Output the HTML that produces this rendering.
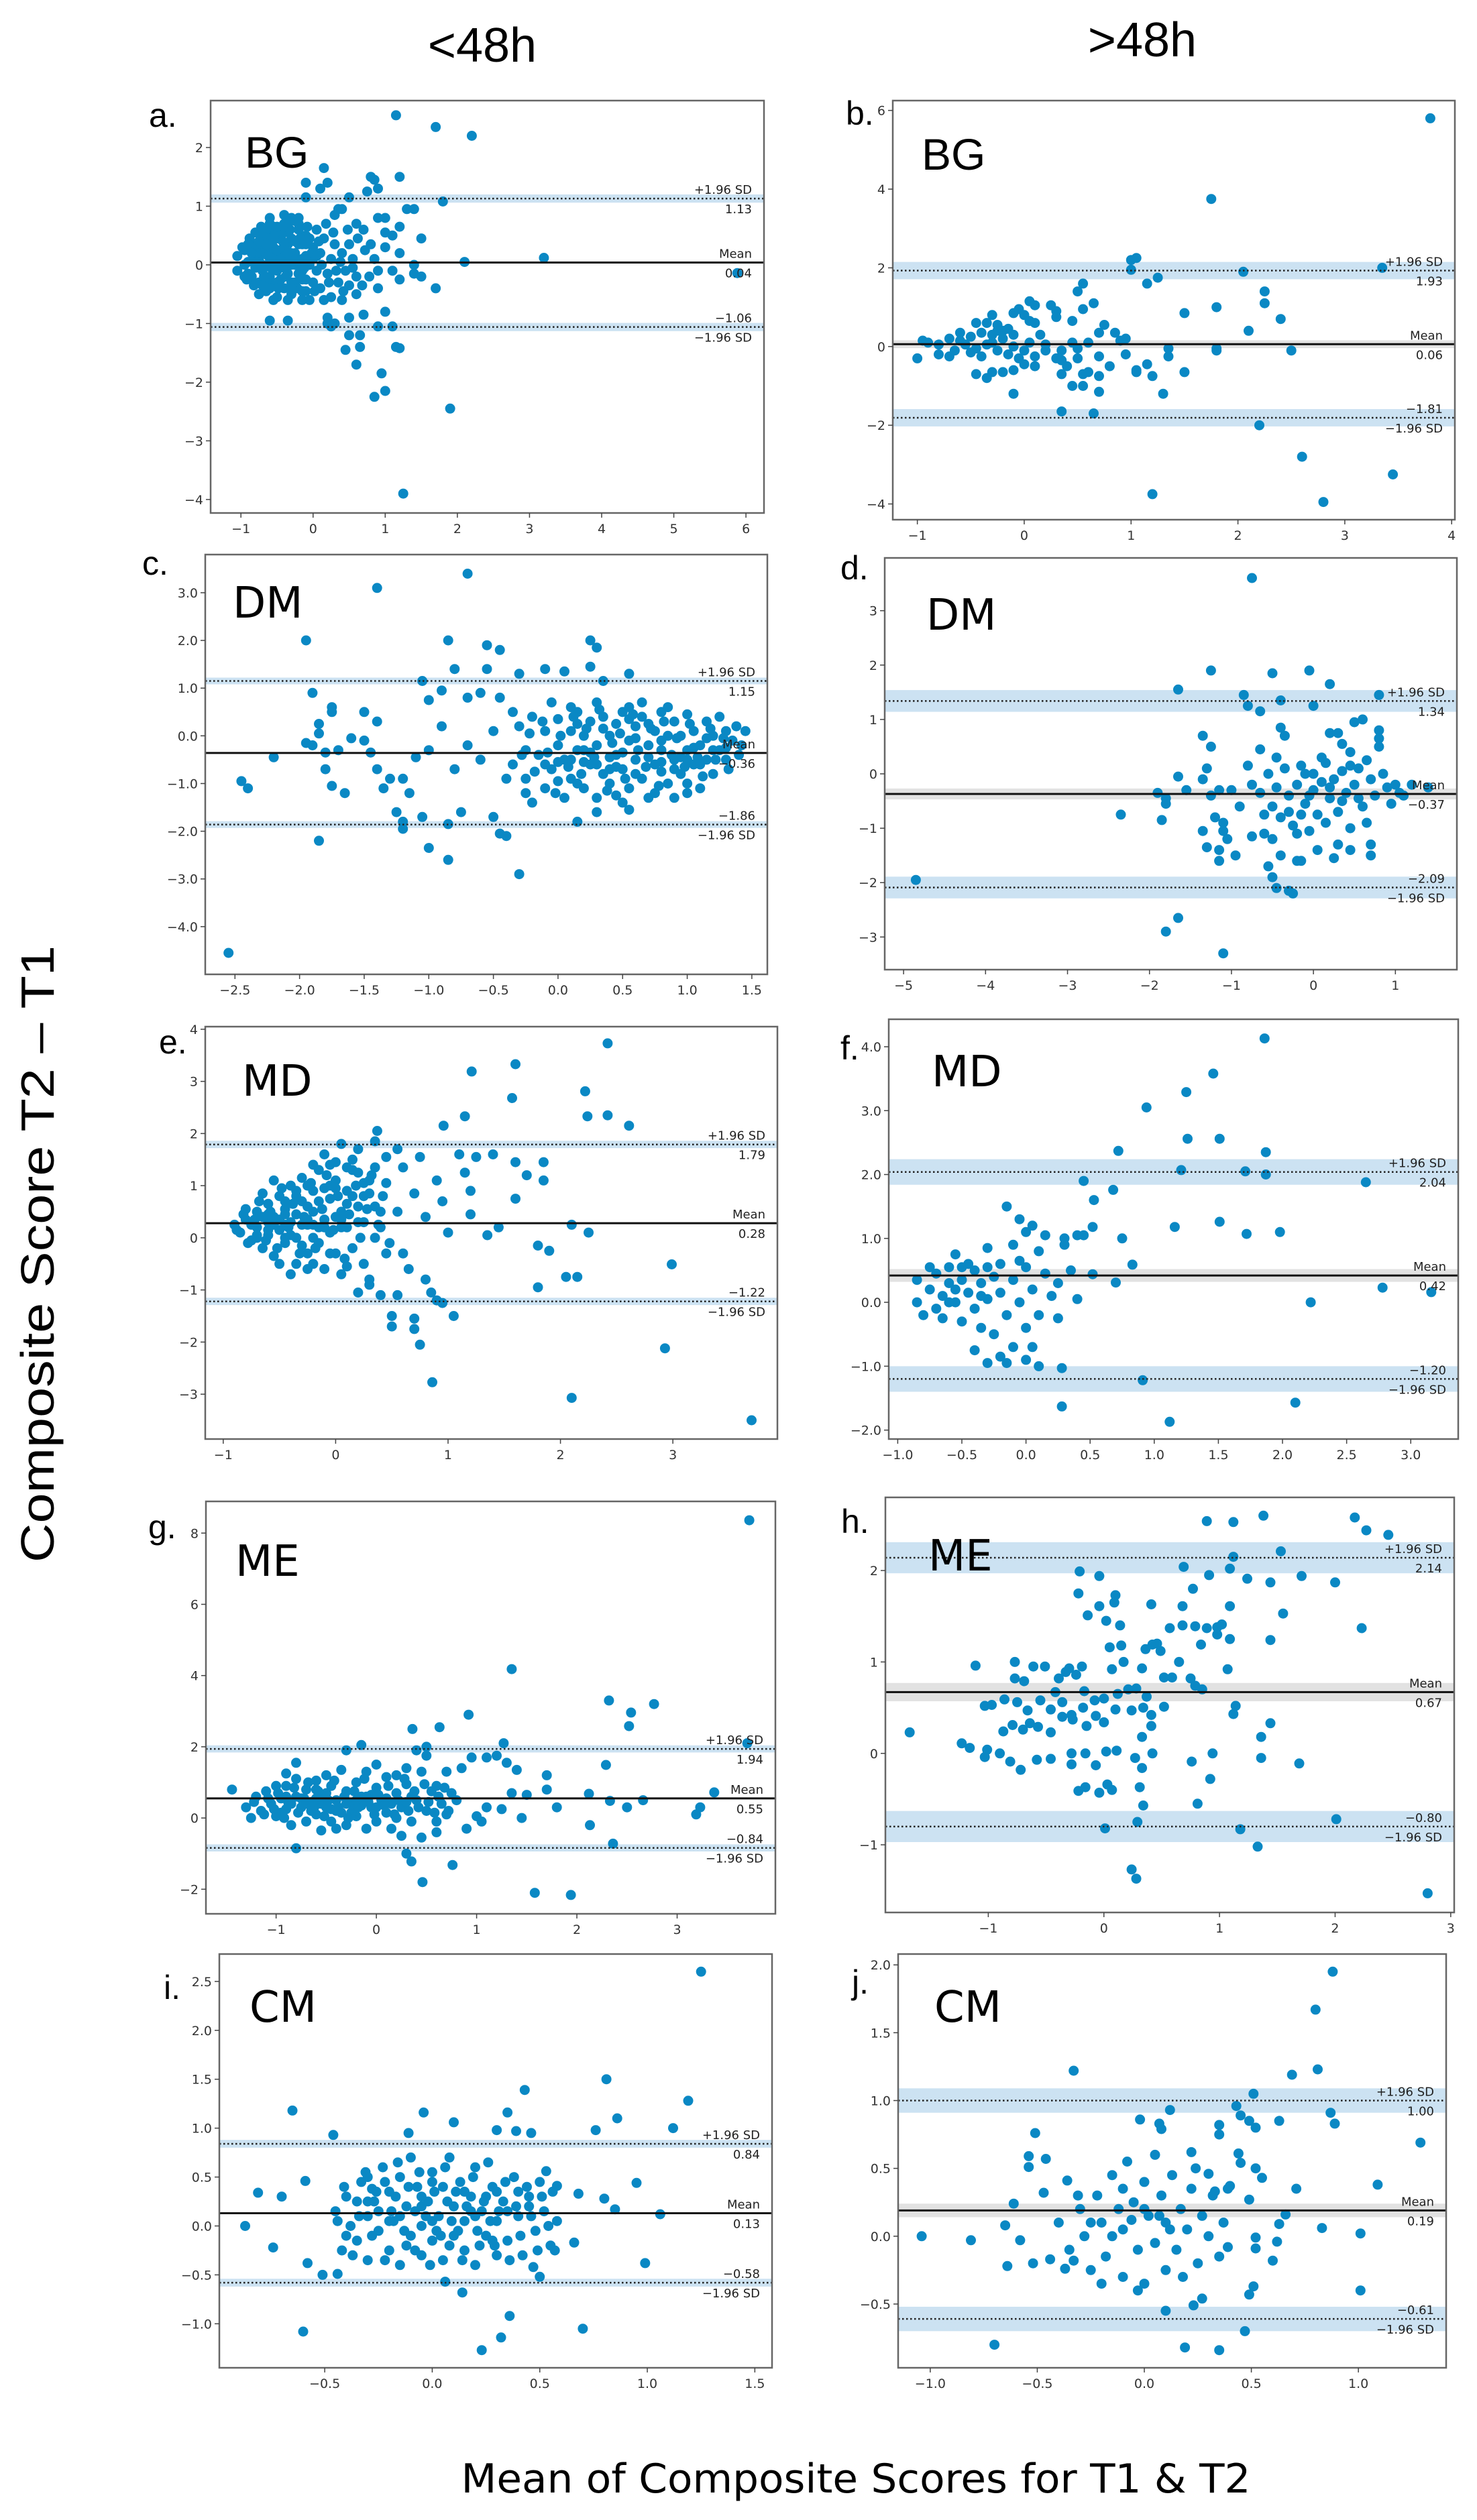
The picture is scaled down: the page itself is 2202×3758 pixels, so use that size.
<!DOCTYPE html>
<html><head><meta charset="utf-8"><style>
html,body{margin:0;padding:0;background:#fff;}
svg{display:block;}
</style></head><body>
<svg id="fig" xmlns="http://www.w3.org/2000/svg" width="2202" height="3758" viewBox="0 0 2202 3758">
<rect x="0" y="0" width="2202" height="3758" fill="#fff"/>
<text x="719" y="92" font-family="Liberation Sans, sans-serif" font-size="72" text-anchor="middle" fill="#000">&lt;48h</text>
<text x="1703" y="84" font-family="Liberation Sans, sans-serif" font-size="72" text-anchor="middle" fill="#000">&gt;48h</text>
<text transform="translate(80,1870) rotate(-90)" font-family="Liberation Sans, sans-serif" font-size="70" text-anchor="middle" textLength="920" lengthAdjust="spacingAndGlyphs" fill="#000">Composite Score T2 – T1</text>
<text x="1276" y="3717" font-family="DejaVu Sans, sans-serif" font-size="60" text-anchor="middle" textLength="1177" lengthAdjust="spacingAndGlyphs" fill="#000">Mean of Composite Scores for T1 &amp; T2</text>
<g id="panels"></g>
</svg>
<script>
// ---- data: [mean, upper LoA, lower LoA] ----
const statA=[0.04,1.13,-1.06], statB=[0.06,1.93,-1.81], statC=[-0.36,1.15,-1.86], statD=[-0.37,1.34,-2.09], statE=[0.28,1.79,-1.22];
const statF=[0.42,2.04,-1.20], statG=[0.55,1.94,-0.84], statH=[0.67,2.14,-0.80], statI=[0.13,0.84,-0.58], statJ=[0.19,1.00,-0.61];
// ---- tick values ----
const xtA=[-1,0,1,2,3,4,5,6], ytA=[-4,-3,-2,-1,0,1,2];
const xtB=[-1,0,1,2,3,4], ytB=[-4,-2,0,2,4,6];
const xtC=[-2.5,-2.0,-1.5,-1.0,-0.5,0.0,0.5,1.0,1.5], ytC=[-4,-3,-2,-1,0,1,2,3];
const xtD=[-5,-4,-3,-2,-1,0,1], ytD=[-3,-2,-1,0,1,2,3];
const xtE=[-1,0,1,2,3], ytE=[-3,-2,-1,0,1,2,3,4];
const xtF=[-1.0,-0.5,0.0,0.5,1.0,1.5,2.0,2.5,3.0], ytF=[-2,-1,0,1,2,3,4];
const xtG=[-1,0,1,2,3], ytG=[-2,0,2,4,6,8];
const xtH=[-1,0,1,2,3], ytH=[-1,0,1,2];
const xtI=[-0.5,0.0,0.5,1.0,1.5], ytI=[-1.0,-0.5,0.0,0.5,1.0,1.5,2.0,2.5];
const xtJ=[-1.0,-0.5,0.0,0.5,1.0], ytJ=[-0.5,0.0,0.5,1.0,1.5,2.0];
// ---- points [mean, difference] ----
const ptsA=[[1.15,2.55],[1.7,2.35],[2.2,2.2],[0.15,1.65],[0.8,1.5],[1.2,1.5],[0.85,1.45],[-0.1,1.4],[0.2,1.4],[0.1,1.3],[0.9,1.3],[0.75,1.25],[-0.1,1.15],[0.5,1.15],[1.8,1.08],[0.35,0.95],[0.4,0.95],[1.3,0.95],[1.4,0.95],[0.3,0.85],[0.9,0.8],[1.0,0.8],[-0.4,0.85],[-0.6,0.8],[-0.3,0.8],[-0.2,0.7],[0.6,0.7],[0.7,0.6],[1.2,0.65],[1.5,0.45],[1.0,0.55],[1.1,0.5],[0.8,0.35],[1.0,0.3],[1.2,0.2],[3.2,0.12],[2.1,0.05],[1.4,0],[0.9,-0.1],[1.1,-0.1],[1.4,-0.15],[1.5,-0.2],[1.2,-0.25],[1.7,-0.4],[0.9,-0.4],[0.6,-0.5],[0.4,-0.6],[1.0,-0.8],[0.7,-0.85],[0.2,-0.9],[0.5,-0.9],[-0.6,-0.95],[-0.35,-0.95],[0.2,-1.0],[0.3,-1.0],[0.9,-1.05],[1.1,-1.05],[0.25,-1.05],[0.65,-1.2],[0.5,-1.2],[0.45,-1.45],[0.65,-1.4],[1.15,-1.4],[1.2,-1.42],[0.6,-1.7],[0.95,-1.85],[0.85,-2.25],[1.0,-2.15],[1.9,-2.45],[1.25,-3.9],[5.88,-0.14],
[-1.05,0.15],[-1.05,-0.1],[-0.95,0.25],[-0.9,-0.15],[-0.9,0.05],[-0.85,0.35],[-0.85,-0.2],[-0.8,0.1],[-0.8,0.55],[-0.75,-0.3],[-0.75,0.25],[-0.7,0],[-0.7,0.4],[-0.7,-0.1],[-0.65,-0.45],[-0.65,0.2],[-0.6,0.5],[-0.6,-0.2],[-0.6,0.05],[-0.55,0.3],[-0.55,-0.35],[-0.55,0.65],[-0.5,0.1],[-0.5,-0.1],[-0.5,0.45],[-0.5,-0.55],[-0.45,0.25],[-0.45,-0.25],[-0.45,0.0],[-0.4,0.55],[-0.4,-0.4],[-0.4,0.15],[-0.35,0.35],[-0.35,-0.15],[-0.35,0.7],[-0.3,0.0],[-0.3,-0.5],[-0.3,0.45],[-0.25,0.2],[-0.25,-0.3],[-0.2,0.6],[-0.2,0.05],[-0.2,-0.15],[-0.15,0.35],[-0.15,-0.45],[-0.1,0.15],[-0.1,-0.25],[-0.1,0.5],[-0.05,0.0],[-0.05,-0.6],[0,0.3],[0,-0.3],[0.05,0.6],[0.05,-0.1],[0.1,0.2],[0.1,-0.4],[0.15,0.45],[0.2,-0.15],[0.25,0.1],[0.25,-0.55],[0.3,0.35],[0.35,-0.3],[0.4,0.2],[0.45,-0.1],[0.5,0.35],[0.5,-0.35],[0.55,0.1],[0.6,-0.2],[-0.65,0.6],[-0.8,-0.05],[-0.25,0.75],[-0.6,0.35],[-0.45,0.5],[-0.7,0.2],[-0.3,0.2],[-0.15,0.1],[-0.5,-0.3],[-0.35,0.05],[-0.2,0.35],[-0.4,-0.05],[-0.95,0.0],[-0.75,0.1],[-0.55,0.15],[-0.65,-0.3],[-0.3,-0.3],[-0.1,0.35],[-0.25,0.0],[-0.4,0.35],[-0.8,0.3],[-0.6,-0.4],[0.0,0.1],[-0.15,-0.1],[-0.5,0.25],[-0.7,0.5],
[-0.98,0.3],[-0.92,-0.25],[-0.88,0.45],[-0.82,-0.35],[-0.78,0.2],[-0.72,0.65],[-0.68,-0.2],[-0.62,0.15],[-0.58,-0.05],[-0.52,0.55],[-0.48,-0.4],[-0.42,0.4],[-0.38,-0.2],[-0.32,0.6],[-0.28,0.1],[-0.22,-0.4],[-0.18,0.45],[-0.12,-0.05],[-0.08,0.65],[-0.02,0.2],[0.02,-0.45],[0.08,0.4],[0.12,0.0],[0.18,0.7],[0.22,-0.3],[0.28,0.55],[0.32,-0.1],[0.38,0.05],[0.42,-0.45],[0.48,0.6],[0.55,-0.05],[0.62,0.45],[0.68,-0.35],[0.72,0.25],[0.78,-0.2],[0.85,0.1],[-0.9,0.35],[-0.85,0.2],[-0.75,0.4],[-0.65,0.35],[-0.55,0.0],[-0.45,0.1],[-0.35,0.2],[-0.25,0.4],[-0.15,-0.25],[-0.05,0.45],[0.05,0.15],[-0.6,0.7],[-0.4,0.7],[-0.2,0.8],[-0.75,-0.5],[-0.55,-0.6],[-0.35,-0.6],[-0.15,-0.6],[0.15,-0.6],[-0.95,-0.2],[-0.7,-0.35],[-0.5,0.65],[-0.3,-0.4],[-0.1,-0.45]];
const ptsB=[[3.8,5.8],[1.75,3.75],[1.0,2.2],[1.05,2.25],[1.0,1.95],[1.25,1.75],[1.15,1.6],[2.05,1.9],[3.35,2.0],[0.55,1.6],[0.5,1.4],[0.65,1.1],[0.55,0.95],[2.25,1.4],[2.25,1.1],[1.8,1.0],[1.5,0.85],[2.4,0.7],[2.1,0.4],[0.75,0.55],[0.7,0.35],[0.85,0.35],[0.95,0.2],[0.45,0.65],[0.25,1.05],[0.3,0.9],[0.3,0.75],[0.05,1.15],[0.1,1.05],[-0.1,0.85],[-0.05,0.95],[0,0.8],[0.1,0.6],[0.05,0.65],[-0.3,0.8],[-0.35,0.6],[-0.45,0.6],[-0.25,0.55],[-0.2,0.4],[-0.15,0.45],[-0.1,0.3],[-0.3,0.3],[-0.4,0.35],[-0.5,0.25],[-0.6,0.35],[-0.7,0.2],[-0.6,0.15],[-0.55,0.05],[-0.9,0.1],[-0.95,0.15],[-1.0,-0.3],[-0.8,-0.2],[-0.7,-0.25],[-0.65,-0.1],[-0.5,-0.15],[-0.45,-0.05],[-0.35,0.05],[-0.3,0.1],[-0.25,-0.1],[-0.2,0.2],[-0.15,-0.2],[-0.1,0],[-0.05,-0.3],[0,-0.1],[0.05,0.1],[0.1,-0.25],[0.1,-0.5],[0,-0.45],[-0.1,-0.6],[-0.2,-0.65],[-0.3,-0.65],[-0.35,-0.8],[-0.45,-0.7],[-0.1,-1.2],[0.35,-0.1],[0.3,-0.3],[0.35,-0.35],[0.4,-0.5],[0.35,-0.7],[0.45,0.1],[0.5,-0.05],[0.5,-0.3],[0.55,-0.7],[0.6,-0.65],[0.7,-0.25],[0.8,-0.5],[0.7,-0.75],[0.45,-1.0],[0.55,-1.0],[0.7,-1.15],[0.95,-0.2],[1.15,-0.45],[1.05,-0.6],[1.05,-0.65],[1.2,-0.75],[1.5,-0.65],[1.3,-1.2],[1.35,-0.05],[1.35,-0.25],[1.8,-0.05],[1.8,-0.1],[2.5,-0.1],[0.35,-1.65],[0.65,-1.7],[2.2,-2.0],[2.6,-2.8],[3.45,-3.25],[1.2,-3.75],[2.8,-3.95],[0.6,0.1],[0.9,0.15],[0.2,0.05],[-0.8,0.05],[-0.25,0.4],[0.15,0.3],[0.2,-0.1],[-0.4,-0.25]];
const ptsC=[[-0.7,3.4],[-1.4,3.1],[-1.95,2.0],[-0.85,2.0],[-0.55,1.9],[-0.45,1.8],[0.25,2.0],[0.3,1.85],[-1.05,1.15],[-0.8,1.4],[-0.55,1.4],[-0.3,1.3],[-0.1,1.4],[0.05,1.35],[0.25,1.45],[0.35,1.15],[0.55,1.3],[-1.9,0.9],[-1.75,0.6],[-1.75,0.5],[-1.5,0.5],[-1.4,0.3],[-1.85,0.25],[-1.85,0.05],[-1.95,-0.15],[-1.9,-0.2],[-1.6,-0.05],[-1.5,-0.1],[-1.8,-0.35],[-2.2,-0.45],[-1.7,-0.3],[-1.45,-0.35],[-1.8,-0.7],[-1.75,-1.05],[-1.65,-1.2],[-2.45,-0.95],[-2.4,-1.1],[-1.4,-0.7],[-1.3,-0.9],[-1.35,-1.1],[-1.2,-0.9],[-1.15,-1.2],[-1.25,-1.6],[-1.2,-1.8],[-1.2,-1.95],[-1.05,-1.7],[-1.0,-2.35],[-0.85,-1.85],[-0.85,-2.6],[-0.75,-1.6],[-0.5,-1.7],[-0.4,-2.1],[-0.45,-2.05],[-0.3,-2.9],[-1.85,-2.2],[-2.55,-4.55],[0.15,-1.8],[0.3,-1.6],[0.55,-1.55],[-1.1,-0.45],[-1.0,-0.3],[-0.9,0.2],[-0.8,-0.7],[-0.7,-0.2],[-0.6,-0.5],[-0.5,0.1],[-0.4,-0.9],[-0.35,0.5],[-0.25,-1.2],[-1.0,0.75],[-0.9,0.95],[-0.7,0.8],[-0.6,0.9],[-0.45,0.8],[-0.25,-0.3],
[-0.35,-0.6],[-0.3,0.2],[-0.25,-0.9],[-0.2,0.4],[-0.15,-0.4],[-0.1,-1.1],[-0.1,0.1],[-0.05,-0.7],[0,0.35],[0,-0.2],[0.05,-1.3],[0.05,-0.5],[0.1,0.1],[0.1,-0.9],[0.15,0.5],[0.15,-0.3],[0.2,-1.1],[0.2,0.0],[0.25,-0.6],[0.25,0.3],[0.3,-1.3],[0.3,-0.2],[0.35,0.4],[0.35,-0.8],[0.4,0.0],[0.4,-1.0],[0.45,-0.4],[0.45,0.25],[0.5,-0.7],[0.5,0.5],[0.55,-0.1],[0.55,-1.1],[0.6,0.2],[0.6,-0.5],[0.65,-0.9],[0.65,0.4],[0.7,-0.2],[0.7,-1.3],[0.75,0.1],[0.75,-0.6],[0.8,0.5],[0.8,-0.3],[0.85,-1.0],[0.85,0.0],[0.9,-0.5],[0.9,0.3],[0.95,-0.8],[0.95,0.0],[1.0,-0.3],[1.0,0.45],[1.05,-0.6],[1.05,0.1],[1.1,-1.1],[1.1,-0.2],[1.15,0.3],[1.15,-0.5],[1.2,0.0],[1.2,-0.8],[1.25,-0.3],[1.25,0.4],[1.3,-0.5],[1.3,0.1],[1.35,-0.1],[1.4,-0.4],[1.45,0.1],[-0.2,-1.4],[0.1,0.6],[0.5,-1.4],[0.9,-1.3],[0.3,0.7],[-0.05,0.7],[0.65,0.7],[0.4,-0.45],[0.2,-0.55],[0.8,-0.75],[0.6,-0.05],[1.0,-1.0],[0.0,-0.95],[0.15,0.25],[0.35,0.15],[0.45,-0.65],[0.7,0.25],[0.95,-0.45],[1.15,-0.05],[0.25,-0.35],[0.55,0.35],[0.8,-0.1],[1.05,-0.25],[1.3,-0.25],
[-0.28,-0.4],[-0.22,0.05],[-0.18,-0.75],[-0.12,0.3],[-0.08,-0.35],[-0.02,-1.2],[0.02,0.0],[0.08,-0.65],[0.12,0.4],[0.18,-0.8],[0.22,0.15],[0.28,-0.45],[0.32,0.55],[0.38,-1.15],[0.42,-0.15],[0.48,0.05],[0.52,-0.9],[0.58,0.45],[0.62,-0.3],[0.68,-0.65],[0.72,0.15],[0.78,-1.05],[0.82,0.3],[0.88,-0.4],[0.92,-0.05],[0.98,-0.65],[1.02,0.25],[1.08,-0.45],[1.12,-0.85],[1.18,0.15],[1.22,-0.5],[1.28,-0.05],[1.32,-0.7],[1.38,0.2],[1.42,-0.2],[0.1,-0.5],[0.3,-0.6],[0.5,-0.35],[0.7,-0.45],[0.9,-0.7],[1.1,-0.6],[0.2,-0.3],[0.4,-0.7],[0.6,-0.8],[0.8,-0.55],[1.0,-0.5],[1.2,-0.3],[0.0,-0.55],[0.45,-1.25],[0.75,-1.2],[1.0,-1.2],[0.15,-1.0],[-0.1,-0.6],[0.55,0.6],[0.85,0.6]];
const ptsD=[[-0.75,3.6],[-1.25,1.9],[-0.5,1.85],[-0.05,1.9],[0.2,1.65],[-1.65,1.55],[-0.85,1.45],[-0.4,1.35],[-0.8,1.25],[-0.65,1.15],[0,1.25],[0.8,1.45],[0.5,0.95],[0.6,1.0],[-1.35,0.7],[-1.25,0.5],[-0.4,0.85],[-0.35,0.7],[-0.65,0.45],[-0.45,0.3],[0.2,0.75],[0.3,0.75],[0.35,0.55],[0.45,0.4],[0.8,0.8],[0.8,0.65],[0.8,0.5],[-1.3,0.1],[-1.35,-0.1],[-1.65,-0.05],[-1.9,-0.35],[-1.8,-0.45],[-1.8,-0.55],[-1.55,-0.3],[-1.25,-0.4],[-1.15,-0.3],[-2.35,-0.75],[-1.85,-0.85],[-1.35,-1.05],[-1.2,-0.8],[-1.1,-0.9],[-1.1,-1.05],[-1.3,-1.35],[-1.15,-1.4],[-1.05,-1.2],[-1.15,-1.6],[-0.95,-1.5],[-0.75,-1.15],[-0.6,-1.1],[-0.5,-1.2],[-0.55,-1.7],[-0.5,-1.9],[-0.45,-2.1],[-0.3,-2.15],[-0.25,-2.2],[-0.4,-1.5],[-0.2,-1.6],[-0.15,-1.6],[0.05,-1.4],[0.3,-1.3],[0.25,-1.55],[0.45,-1.4],[0.7,-1.3],[0.7,-1.5],[-4.85,-1.95],[-1.8,-2.9],[-1.65,-2.65],[-1.1,-3.3],[1.4,-0.25],[1.2,-0.2],[1.1,-0.4],[-0.8,0.15],[-0.75,-0.2],[-0.65,-0.35],[-0.55,0.0],[-0.5,-0.6],[-0.45,-0.25],[-0.4,-0.8],[-0.35,0.1],[-0.3,-0.4],[-0.25,-0.95],[-0.2,-0.2],[-0.15,0.15],[-0.1,-0.55],[-0.05,-1.05],[0,-0.3],[0,0.0],[0.05,-0.75],[0.1,-0.15],[0.15,0.2],[0.15,-0.9],[0.2,-0.45],[0.25,-0.1],[0.3,-0.7],[0.35,0.05],[0.4,-0.35],[0.45,-1.0],[0.5,-0.2],[0.55,0.1],[0.6,-0.6],[0.65,-0.9],[0.7,-0.1],[0.75,-0.4],[0.85,0.0],[0.9,-0.25],[0.95,-0.55],[1.0,-0.2],[1.05,-0.35],[-0.6,-0.75],[-0.9,-0.6],[-1.0,-0.3],[-0.2,-1.1],[0.1,0.3],[0.45,0.15],[-0.1,0.0],[0.65,0.25],[0.35,-0.5],[-0.3,-0.7],[0.2,-0.25],[-0.05,-0.4],[0.55,-0.45],[-0.15,-0.75]];
const ptsE=[[2.42,3.73],[1.6,3.33],[1.21,3.19],[1.57,2.68],[2.22,2.81],[2.24,2.33],[2.42,2.35],[2.61,2.15],[0.96,2.15],[1.15,2.33],[0.37,2.05],[2.99,-0.51],[2.93,-2.12],[2.1,-3.07],[0.86,-2.77],[3.7,-3.5],[1.25,1.55],[1.1,1.6],[1.4,1.6],[1.6,1.45],[1.85,1.45],[1.7,1.2],[1.85,1.1],[1.15,1.25],[1.2,0.9],[1.6,0.75],[0.95,0.7],[1.2,0.45],[2.1,0.25],[2.25,0.1],[1.35,0.05],[1.45,0.2],[1.0,0.1],[1.8,-0.15],[1.9,-0.25],[2.05,-0.75],[2.15,-0.75],[1.8,-0.95],[0.6,-0.3],[0.8,-0.8],[0.9,-1.2],[0.95,-1.25],[1.05,-1.5],[0.5,-1.5],[0.5,-1.7],[0.7,-1.55],[0.7,-1.75],[0.75,-2.05],[0.55,-1.1],[0.4,-1.1],[0.2,-1.05],[0.3,-0.9],[0.85,-1.05],[0.65,-0.6],[0.55,0.5],[0.7,0.85],[0.8,0.4],[0.9,1.1],[0.6,1.35],[0.75,1.55],[0.55,1.7],[0.35,1.85],[0.45,1.55],[0.3,1.1],[0.2,1.7],[0.05,1.8],[0.15,1.3],[-0.05,1.4],
[-0.9,0.25],[-0.85,0.1],[-0.8,0.35],[-0.75,-0.05],[-0.7,0.5],[-0.7,0.2],[-0.65,-0.2],[-0.6,0.65],[-0.6,0.05],[-0.55,0.4],[-0.55,-0.35],[-0.5,0.8],[-0.5,0.15],[-0.45,-0.1],[-0.45,0.55],[-0.4,1.0],[-0.4,0.3],[-0.35,-0.5],[-0.35,0.0],[-0.3,0.7],[-0.3,1.15],[-0.25,0.25],[-0.25,-0.3],[-0.2,0.9],[-0.2,0.5],[-0.15,-0.1],[-0.15,1.3],[-0.1,0.35],[-0.1,-0.6],[-0.05,0.75],[-0.05,0.1],[0,1.1],[0,-0.3],[0.05,0.5],[0.05,-0.7],[0.1,0.9],[0.1,0.2],[0.15,-0.2],[0.2,0.6],[0.2,1.25],[0.25,-0.5],[0.25,0.3],[0.3,0.85],[0.35,0.0],[0.35,1.35],[0.4,0.5],[0.45,-0.3],[0.45,1.05],[-0.8,0.55],[-0.65,0.85],[-0.55,1.1],[-0.45,0.0],[-0.35,0.45],[-0.25,0.6],[-0.15,0.2],[-0.05,-0.3],[0.0,0.4],[0.1,0.65],[-0.3,-0.15],[-0.6,0.3],[-0.2,0.0],[0.15,1.5],[-0.1,1.6],[0.0,1.45],[0.3,-0.8],[-0.4,-0.7],[-0.2,-0.5],[-0.7,0.0],[-0.5,0.35],[-0.35,0.8],[-0.2,0.25],[-0.1,0.95],[0.05,0.2],[-0.45,0.25],[-0.6,0.45],[-0.25,1.0],[0.25,0.8],
[-0.88,0.15],[-0.82,0.45],[-0.78,-0.1],[-0.72,0.35],[-0.68,0.7],[-0.62,-0.05],[-0.58,0.5],[-0.52,-0.2],[-0.48,0.95],[-0.42,0.2],[-0.38,0.65],[-0.32,-0.3],[-0.28,0.4],[-0.22,1.05],[-0.18,-0.2],[-0.12,0.55],[-0.08,1.2],[-0.02,0.15],[0.02,0.8],[0.08,-0.4],[0.12,0.45],[0.18,1.0],[0.22,0.0],[0.28,0.55],[0.32,1.2],[0.38,0.25],[0.42,0.8],[0.48,-0.1],[-0.7,0.05],[-0.55,0.25],[-0.4,0.05],[-0.25,0.35],[-0.1,0.2],[0.05,0.35],[0.2,0.3],[-0.6,0.15],[-0.45,0.7],[-0.3,0.25],[-0.15,0.7],[0.0,0.95],[-0.5,-0.5],[-0.25,-0.6],[0.1,-0.55],[0.35,0.6],[-0.65,0.4],[-0.35,0.9],[-0.05,1.0],[0.25,1.05],[-0.75,0.25],[-0.45,0.45],[0.15,0.8],[0.4,0.2],[-0.2,1.4],[0.1,1.35]];
const ptsF=[[1.86,4.13],[1.46,3.58],[1.25,3.29],[0.94,3.05],[1.26,2.56],[1.51,2.56],[0.72,2.37],[1.87,2.35],[1.21,2.07],[1.71,2.05],[1.87,2.0],[2.65,1.88],[0.45,1.9],[0.68,1.76],[0.53,1.6],[0.52,1.18],[1.16,1.18],[1.51,1.26],[1.72,1.07],[1.98,1.1],[0.75,1.0],[0.83,0.59],[0.52,0.44],[0.70,0.31],[2.78,0.23],[3.16,0.16],[2.22,0.0],[0.28,-1.03],[0.91,-1.22],[2.1,-1.57],[0.28,-1.63],[1.12,-1.87],
[-0.85,0.35],[-0.85,0.0],[-0.8,-0.2],[-0.75,0.2],[-0.75,0.55],[-0.7,-0.1],[-0.7,0.45],[-0.65,0.1],[-0.65,-0.25],[-0.6,0.55],[-0.6,0.3],[-0.55,0.0],[-0.55,0.75],[-0.5,0.35],[-0.5,-0.3],[-0.45,0.6],[-0.45,0.15],[-0.4,-0.1],[-0.4,0.5],[-0.35,0.3],[-0.35,-0.4],[-0.3,0.85],[-0.3,0.05],[-0.25,0.4],[-0.25,-0.5],[-0.2,0.6],[-0.2,0.15],[-0.15,1.5],[-0.15,-0.2],[-0.1,0.9],[-0.1,0.35],[-0.1,-0.7],[-0.05,1.3],[-0.05,0.0],[0,1.1],[0,0.55],[0,-0.4],[0.05,1.2],[0.05,0.2],[0.1,0.8],[0.1,-0.2],[0.15,1.05],[0.15,0.45],[0.2,0.1],[0.25,-0.25],[0.3,0.9],[-0.3,-0.95],[-0.15,-0.95],[0.0,-0.9],[0.1,-1.0],[-0.4,-0.75],[-0.2,-0.85],[0.05,-0.7],[-0.3,0.55],[-0.5,0.55],[-0.05,0.65],[0.25,0.3],[0.35,0.5],[0.4,1.05],[0.4,0.05],[0.45,1.05],[0.3,1.0],[-0.55,0.2],[-0.35,0.1],[-0.6,0.0]];
const ptsG=[[3.72,8.36],[3.7,2.1],[1.35,4.18],[2.32,3.3],[2.77,3.2],[2.54,2.96],[2.52,2.58],[0.92,2.9],[0.63,2.55],[0.36,2.5],[1.27,2.1],[2.29,1.49],[3.37,0.72],[2.66,0.5],[3.23,0.3],[3.19,0.1],[2.33,0.48],[2.12,0.68],[2.13,-0.2],[2.5,0.3],[2.36,-0.72],[1.58,-2.1],[1.94,-2.16],[0.46,-1.8],[0.76,-1.32],[0.35,-1.22],[0.3,-1.0],[-0.8,-0.85],[-1.44,0.8],
[1.1,1.7],[1.2,1.75],[1.3,1.55],[1.4,1.35],[1.7,1.2],[1.7,0.8],[1.8,0.3],[1.5,0.65],[1.35,0.7],[1.1,0.3],[1.0,0.05],[0.9,-0.3],[1.05,-0.1],[1.25,0.25],[1.45,0.0],[0.8,0.5],[0.7,1.3],[0.6,0.9],[0.85,1.4],[0.95,1.7],[0.5,1.75],[0.4,1.9],[0.5,2.0],[-0.15,2.05],[-0.3,1.9],[-0.8,1.55],[-0.9,1.25],[0.6,-0.4],[0.7,0.1],[0.25,-0.5],[0.45,-0.55],[0.3,1.4],[0.2,1.2],
[-1.3,0.3],[-1.25,0.0],[-1.2,0.6],[-1.15,0.2],[-1.1,0.75],[-1.05,0.4],[-1.0,0.05],[-0.95,0.55],[-0.9,0.9],[-0.9,0.25],[-0.85,-0.2],[-0.8,0.6],[-0.8,1.1],[-0.75,0.3],[-0.7,-0.1],[-0.7,0.8],[-0.65,0.45],[-0.6,1.05],[-0.6,0.1],[-0.55,-0.35],[-0.55,0.65],[-0.5,0.3],[-0.5,1.2],[-0.45,0.9],[-0.45,-0.1],[-0.4,0.5],[-0.35,0.15],[-0.35,1.35],[-0.3,0.75],[-0.3,-0.2],[-0.25,0.4],[-0.2,1.0],[-0.2,0.05],[-0.15,0.6],[-0.1,-0.3],[-0.1,1.3],[-0.05,0.3],[0,0.85],[0,-0.1],[0.05,0.5],[0.1,1.15],[0.1,0.15],[0.15,-0.3],[0.2,0.7],[0.25,0.3],[0.3,0.95],[0.35,-0.1],[0.4,0.5],[0.45,1.3],[0.5,0.2],[0.55,0.75],[0.6,-0.1],[0.65,0.4],[0.75,0.7],[-1.0,0.9],[-0.65,0.2],[-0.25,0.15],[-0.05,0.65],[0.15,0.4],[0.35,0.6],[-0.55,0.4],[-0.85,0.4],[0.0,1.5],[-0.4,-0.3],[-0.75,0.55],[-0.45,0.25],[-0.15,0.35],[0.2,0.0],[-0.95,0.15],[-0.6,0.8],
[-1.22,0.45],[-1.12,0.1],[-1.08,0.55],[-1.02,0.25],[-0.98,0.7],[-0.92,0.0],[-0.88,0.45],[-0.82,0.85],[-0.78,0.15],[-0.72,0.55],[-0.68,1.0],[-0.62,0.3],[-0.58,0.75],[-0.52,0.05],[-0.48,0.5],[-0.42,1.05],[-0.38,0.3],[-0.32,0.6],[-0.28,0.0],[-0.22,0.75],[-0.18,0.3],[-0.12,1.1],[-0.08,0.45],[-0.02,0.1],[0.02,0.65],[0.08,0.35],[0.12,0.9],[0.18,0.1],[0.22,0.5],[0.28,1.1],[0.32,0.2],[0.38,0.75],[0.42,0.3],[0.48,0.95],[0.52,0.45],[0.58,0.15],[0.62,0.6],[0.68,0.85],[0.72,0.2],[-0.9,0.6],[-0.7,0.4],[-0.5,0.7],[-0.3,0.4],[-0.1,0.6],[0.1,0.55],[0.3,0.45],[-0.6,0.55],[-0.4,0.2],[-0.2,0.5],[0.0,0.3]];
const ptsH=[[0.89,2.54],[1.12,2.53],[1.38,2.6],[2.17,2.58],[2.27,2.44],[2.46,2.39],[1.53,2.21],[0.69,2.04],[1.09,2.02],[1.12,2.15],[0.91,1.95],[1.24,1.91],[1.44,1.87],[1.71,1.94],[2.0,1.87],[-0.21,1.99],[-0.04,1.94],[-0.22,1.75],[0.10,1.73],[0.09,1.65],[-0.14,1.51],[-0.04,1.61],[0.41,1.63],[0.68,1.61],[0.77,1.8],[1.09,1.61],[1.55,1.53],[2.23,1.37],[0.02,1.45],[0.14,1.4],[0.57,1.37],[0.68,1.4],[0.79,1.39],[0.89,1.37],[0.98,1.38],[1.02,1.41],[0.84,1.19],[0.98,1.3],[1.09,1.25],[1.44,1.24],[1.07,0.92],[1.14,0.52],[1.12,0.43],[1.36,0.18],[1.44,0.33],[0.65,1.0],[0.52,0.83],[0.59,0.83],[0.75,0.82],[0.79,0.74],[0.85,0.7],[0.33,0.93],[0.42,1.19],[0.46,1.2],[0.49,1.12],[0.36,1.14],[0.05,1.16],[0.15,1.18],[0.17,1.0],[0.07,0.92],[-1.11,0.96],[-0.77,1.0],[-0.61,0.95],[-0.51,0.95],[-0.3,0.93],[-0.19,0.95],[-0.33,0.89],[-0.24,0.86],[-0.39,0.82],[-0.77,0.82],[-0.69,0.79],[-0.42,0.67],[-0.17,0.68],[-1.03,0.52],[-0.97,0.53],[-0.86,0.59],[-0.75,0.56],[-0.66,0.47],[-0.55,0.58],[-0.46,0.48],[-0.36,0.56],[-0.28,0.42],[-0.18,0.5],[-0.08,0.58],[0.0,0.6],[0.12,0.65],[0.21,0.7],[0.28,0.71],[0.34,0.5],[0.37,0.62],[0.41,0.42],[0.41,0.3],[0.52,0.51],[0.33,0.18],[0.24,0.47],[0.10,0.48],[0.0,0.34],[-0.07,0.41],[-0.15,0.3],[-0.27,0.37],[-0.36,0.4],[-0.46,0.23],[-0.57,0.29],[-0.64,0.33],[-0.7,0.26],[-0.79,0.31],[-0.87,0.24],[-1.01,0.04],[-0.9,0.0],[-0.81,-0.09],[-0.72,-0.18],[-0.58,-0.07],[-0.46,-0.06],[-0.28,0.0],[-0.28,-0.12],[-0.16,0.0],[-0.07,-0.13],[0.02,0.02],[0.11,0.03],[0.27,-0.05],[0.33,-0.16],[0.42,0.0],[-1.68,0.23],[-1.23,0.11],[-1.16,0.06],[-1.03,-0.04],[-0.22,-0.41],[-0.16,-0.37],[-0.04,-0.43],[0.03,-0.34],[0.07,-0.4],[0.31,-0.37],[0.34,-0.57],[0.76,-0.09],[0.94,0.0],[0.92,-0.28],[0.81,-0.55],[1.36,-0.05],[1.69,-0.11],[2.01,-0.72],[1.18,-0.83],[1.33,-1.02],[0.29,-0.75],[0.01,-0.82],[0.24,-1.27],[0.28,-1.37],[2.8,-1.53]];
const ptsI=[[1.25,2.6],[0.81,1.5],[1.19,1.28],[0.43,1.39],[-0.65,1.18],[-0.04,1.16],[0.35,1.16],[0.86,1.1],[1.12,1.0],[0.76,0.98],[-0.46,0.93],[-0.11,0.95],[0.10,1.06],[0.46,0.95],[0.30,0.98],[0.39,0.97],[0.95,0.44],[0.80,0.28],[0.85,0.17],[1.06,0.12],[0.99,-0.38],[0.66,-0.17],[0.68,0.33],[-0.87,0.0],[-0.81,0.34],[-0.74,-0.22],[-0.70,0.3],[-0.60,-1.08],[0.23,-1.27],[0.32,-1.14],[0.36,-0.92],[0.70,-1.05],[0.14,-0.68],[0.06,-0.57],[0.50,-0.52],[0.47,-0.42],[-0.51,-0.5],[-0.44,-0.49],[-0.58,-0.38],[-0.59,0.46],[0.57,-0.25],[0.53,0.56],[0.58,0.41],
[-0.45,0.15],[-0.42,-0.25],[-0.4,0.3],[-0.38,0.0],[-0.35,-0.15],[-0.33,0.45],[-0.3,0.1],[-0.3,-0.35],[-0.27,0.25],[-0.25,-0.05],[-0.23,0.6],[-0.2,0.35],[-0.2,-0.25],[-0.18,0.05],[-0.15,0.5],[-0.15,-0.4],[-0.12,0.2],[-0.1,-0.1],[-0.1,0.7],[-0.07,0.4],[-0.05,0.0],[-0.05,-0.3],[-0.02,0.25],[0,0.55],[0,-0.15],[0.03,0.1],[0.05,0.4],[0.05,-0.35],[0.08,0.7],[0.1,0.2],[0.1,-0.1],[0.13,0.45],[0.15,-0.25],[0.15,0.05],[0.18,0.3],[0.2,-0.4],[0.2,0.6],[0.23,0.15],[0.25,-0.1],[0.28,0.4],[0.3,-0.3],[0.3,0.05],[0.33,0.25],[0.35,-0.15],[0.38,0.5],[0.4,0.1],[0.42,-0.3],[0.45,0.3],[0.48,-0.05],[0.5,0.45],[0.52,0.15],[0.55,-0.2],[0.58,0.05],[-0.35,0.25],[-0.25,0.15],[-0.08,0.15],[0.07,0.25],[0.25,0.3],[-0.2,0.05],[0.0,0.05],[0.35,0.15],[-0.12,-0.2],[0.12,-0.05],[-0.28,0.38],[0.22,-0.2],[-0.4,-0.1],[-0.17,0.3],[0.02,-0.05],[0.18,0.15],[0.4,0.35],[-0.3,0.5],[0.28,-0.15],[-0.05,0.3],
[-0.44,0.05],[-0.41,0.4],[-0.37,-0.3],[-0.34,0.1],[-0.31,0.55],[-0.28,-0.1],[-0.26,0.35],[-0.22,-0.35],[-0.19,0.15],[-0.16,0.65],[-0.13,-0.05],[-0.11,0.4],[-0.08,-0.25],[-0.06,0.55],[-0.03,0.1],[-0.01,-0.4],[0.01,0.35],[0.04,-0.1],[0.06,0.6],[0.09,0.05],[0.11,0.35],[0.14,-0.35],[0.16,0.2],[0.19,0.5],[0.21,-0.05],[0.24,0.25],[0.26,0.65],[0.29,-0.2],[0.31,0.15],[0.34,0.45],[0.36,-0.35],[0.39,0.2],[0.41,-0.1],[0.44,0.4],[0.46,0.1],[0.49,-0.25],[0.51,0.3],[0.54,0.0],[0.56,0.35],[-0.3,0.25],[-0.15,0.1],[0.0,0.45],[0.15,0.35],[0.3,0.35],[0.45,0.2],[-0.22,0.45],[0.08,-0.2],[0.27,0.05],[-0.05,0.2],[0.2,0.1]];
const ptsJ=[[0.88,1.95],[0.80,1.67],[0.81,1.23],[-0.33,1.22],[0.69,1.19],[0.51,1.05],[0.87,0.91],[0.89,0.83],[1.29,0.69],[1.09,0.38],[0.43,0.96],[0.45,0.89],[0.49,0.85],[0.52,0.8],[0.63,0.85],[0.35,0.82],[0.35,0.75],[0.12,0.93],[-0.02,0.86],[0.07,0.83],[0.08,0.79],[-0.51,0.76],[-0.54,0.59],[-0.46,0.57],[-0.54,0.51],[0.71,0.35],[0.83,0.06],[1.01,0.02],[1.01,-0.4],[-1.04,0.0],[-0.81,-0.03],[-0.70,-0.8],[-0.64,-0.22],[0.19,-0.82],[0.35,-0.84],[0.47,-0.7],[0.10,-0.55],[0.23,-0.51],[0.27,-0.46],[0.49,-0.43],[0.51,-0.37],[0.60,-0.18],[0.62,-0.04],[0.52,-0.09],[0.52,-0.01],[0.39,-0.08],[-0.61,0.24],[-0.65,0.08],[-0.58,-0.03],[-0.52,-0.2],[-0.47,0.32],[-0.36,0.41],[-0.31,0.3],[-0.44,-0.17],[-0.37,-0.24],[-0.33,-0.18],[0.55,0.43],[0.52,0.5],[0.39,0.35],[0.40,0.37],[0.44,0.61],[0.45,0.54],[0.30,0.46],[0.22,0.62],[0.33,0.33],[0.49,0.27],[0.63,0.09],[0.66,0.16],
[-0.4,0.1],[-0.35,-0.1],[-0.3,0.2],[-0.28,0.0],[-0.25,-0.25],[-0.22,0.3],[-0.2,0.1],[-0.18,-0.15],[-0.15,0.45],[-0.12,0.2],[-0.1,-0.3],[-0.1,0.05],[-0.08,0.55],[-0.05,0.25],[-0.03,-0.1],[0,0.4],[0,-0.35],[0.02,0.15],[0.05,0.6],[0.05,-0.05],[0.08,0.3],[0.1,-0.25],[0.1,0.1],[0.13,0.45],[0.15,-0.1],[0.17,0.2],[0.2,0.05],[0.22,0.35],[0.25,-0.2],[0.27,0.15],[0.3,0.0],[0.32,0.3],[0.35,-0.15],[0.37,0.1],[-0.2,-0.35],[-0.15,0.0],[0.0,0.2],[0.12,0.05],[-0.06,0.12],[0.18,-0.3],[-0.25,0.1],[0.24,0.5],[-0.03,-0.4],[0.07,0.15],[-0.1,0.35]];

const NS='http://www.w3.org/2000/svg';
const panels=[
 {key:'a',x0:314,y0:150,x1:1139,y1:765,xl:[-1.42,6.25],yl:[-4.23,2.8],pts:ptsA,xt:xtA,yt:ytA,st:statA,bw:0.07,mw:0.02,dec:0,lab:'a.',lx:222,ly:189,title:'BG',tx:365,ty:250,narrow:true},
 {key:'b',x0:1331,y0:150,x1:2169,y1:775,xl:[-1.23,4.03],yl:[-4.4,6.25],pts:ptsB,xt:xtB,yt:ytB,st:statB,bw:0.22,mw:0.1,dec:0,lab:'b.',lx:1261,ly:186,title:'BG',tx:1374,ty:253,narrow:true},
 {key:'c',x0:306,y0:827,x1:1144,y1:1453,xl:[-2.73,1.62],yl:[-5.0,3.8],pts:ptsC,xt:xtC,yt:ytC,st:statC,bw:0.07,mw:0.02,dec:1,lab:'c.',lx:212,ly:857,title:'DM',tx:347,ty:921},
 {key:'d',x0:1319,y0:832,x1:2172,y1:1446,xl:[-5.23,1.75],yl:[-3.6,3.97],pts:ptsD,xt:xtD,yt:ytD,st:statD,bw:0.2,mw:0.1,dec:0,lab:'d.',lx:1253,ly:864,title:'DM',tx:1381,ty:939},
 {key:'e',x0:306,y0:1531,x1:1159,y1:2146,xl:[-1.16,3.93],yl:[-3.86,4.05],pts:ptsE,xt:xtE,yt:ytE,st:statE,bw:0.07,mw:0.02,dec:0,lab:'e.',lx:237,ly:1571,title:'MD',tx:361,ty:1634},
 {key:'f',x0:1325,y0:1520,x1:2174,y1:2146,xl:[-1.07,3.37],yl:[-2.14,4.43],pts:ptsF,xt:xtF,yt:ytF,st:statF,bw:0.2,mw:0.1,dec:1,lab:'f.',lx:1253,ly:1580,title:'MD',tx:1389,ty:1620},
 {key:'g',x0:307,y0:2239,x1:1156,y1:2854,xl:[-1.70,3.98],yl:[-2.69,8.89],pts:ptsG,xt:xtG,yt:ytG,st:statG,bw:0.1,mw:0.03,dec:0,lab:'g.',lx:221,ly:2294,title:'ME',tx:351,ty:2350},
 {key:'h',x0:1320,y0:2233,x1:2168,y1:2852,xl:[-1.89,3.03],yl:[-1.74,2.80],pts:ptsH,xt:xtH,yt:ytH,st:statH,bw:0.17,mw:0.1,dec:0,lab:'h.',lx:1254,ly:2286,title:'ME',tx:1384,ty:2342},
 {key:'i',x0:327,y0:2914,x1:1151,y1:3531,xl:[-0.99,1.58],yl:[-1.45,2.78],pts:ptsI,xt:xtI,yt:ytI,st:statI,bw:0.04,mw:0.01,dec:1,lab:'i.',lx:244,ly:2981,title:'CM',tx:372,ty:3015},
 {key:'j',x0:1339,y0:2914,x1:2156,y1:3531,xl:[-1.15,1.41],yl:[-0.97,2.08],pts:ptsJ,xt:xtJ,yt:ytJ,st:statJ,bw:0.09,mw:0.05,dec:1,lab:'j.',lx:1270,ly:2973,title:'CM',tx:1393,ty:3015}
];
function el(tag,attrs,parent){const e=document.createElementNS(NS,tag);for(const k in attrs)e.setAttribute(k,attrs[k]);parent.appendChild(e);return e;}
function fmt(v,d){const s=Math.abs(v).toFixed(d);return (v<0?'\u2212':'')+s;}
const root=document.getElementById('panels');
const defs=el('defs',{},root);
panels.forEach(p=>{
  const sx=v=>p.x0+(v-p.xl[0])/(p.xl[1]-p.xl[0])*(p.x1-p.x0);
  const sy=v=>p.y1-(v-p.yl[0])/(p.yl[1]-p.yl[0])*(p.y1-p.y0);
  const g=el('g',{},root);
  
  
  const cp=el('clipPath',{id:'clip-'+p.key},defs);
  el('rect',{x:p.x0,y:p.y0,width:p.x1-p.x0,height:p.y1-p.y0},cp);
  const inner=el('g',{'clip-path':'url(#clip-'+p.key+')'},g);
  const [m,up,lo]=p.st;
  const bu=el('rect',{x:p.x0,y:sy(up+p.bw),width:p.x1-p.x0,height:sy(up-p.bw)-sy(up+p.bw),fill:'#cce2f2'},inner);
  
  
  const bl=el('rect',{x:p.x0,y:sy(lo+p.bw),width:p.x1-p.x0,height:sy(lo-p.bw)-sy(lo+p.bw),fill:'#cce2f2'},inner);
  
  
  const bm=el('rect',{x:p.x0,y:sy(m+p.mw),width:p.x1-p.x0,height:Math.max(2,sy(m-p.mw)-sy(m+p.mw)),fill:'#e2e2e2'},inner);
  
  
  const pg=el('g',{fill:'#0a88c4'},inner);
  p.pts.forEach(pt=>{
    const c=el('circle',{cx:sx(pt[0]).toFixed(1),cy:sy(pt[1]).toFixed(1),r:7.5},pg);
    
    
  });
  const lm=el('line',{x1:p.x0,x2:p.x1,y1:sy(m),y2:sy(m),stroke:'#111','stroke-width':3},inner);
  
  
  [up,lo].forEach((v,i)=>{
    const l=el('line',{x1:p.x0,x2:p.x1,y1:sy(v),y2:sy(v),stroke:'#222','stroke-width':2.5,'stroke-dasharray':'2.5 3.5'},inner);
    
    
  });
  const fr=el('rect',{x:p.x0,y:p.y0,width:p.x1-p.x0,height:p.y1-p.y0,fill:'none',stroke:'#666','stroke-width':2.5},g);
  
  
  const tf='font-family:"DejaVu Sans",sans-serif;font-size:19px;fill:#333';
  p.xt.forEach(v=>{
    const x=sx(v);
    el('line',{x1:x,x2:x,y1:p.y1,y2:p.y1+7,stroke:'#444','stroke-width':1.5},g);
    const t=el('text',{x:x,y:p.y1+30,'text-anchor':'middle',style:tf},g);
    t.textContent=fmt(v,p.dec);
    
    
  });
  p.yt.forEach(v=>{
    const y=sy(v);
    el('line',{x1:p.x0-7,x2:p.x0,y1:y,y2:y,stroke:'#444','stroke-width':1.5},g);
    const t=el('text',{x:p.x0-11,y:y+7,'text-anchor':'end',style:tf},g);
    t.textContent=fmt(v,p.dec);
    
    
  });
  const af='font-family:"DejaVu Sans",sans-serif;font-size:18px;fill:#222';
  const ax=p.x1-18;
  const ann=[['+1.96 SD',sy(up)-7],[fmt(up,2),sy(up)+22],['Mean',sy(m)-7],[fmt(m,2),sy(m)+22],[fmt(lo,2),sy(lo)-7],['\u22121.96 SD',sy(lo)+22]];
  ann.forEach(a=>{
    const t=el('text',{x:ax,y:a[1],'text-anchor':'end',style:af},g);
    t.textContent=a[0];
    
    
  });
  const lt=el('text',{x:p.lx,y:p.ly,style:'font-family:"Liberation Sans",sans-serif;font-size:50px;fill:#000'},g);
  lt.textContent=p.lab;
  
  
  const tt=el('text',{x:p.tx,y:p.ty,style:p.narrow?'font-family:"Liberation Sans",sans-serif;font-size:66px;fill:#000':'font-family:"DejaVu Sans",sans-serif;font-size:64px;fill:#000'},g);
  tt.textContent=p.title;
  
  
});
</script>
</body></html>
